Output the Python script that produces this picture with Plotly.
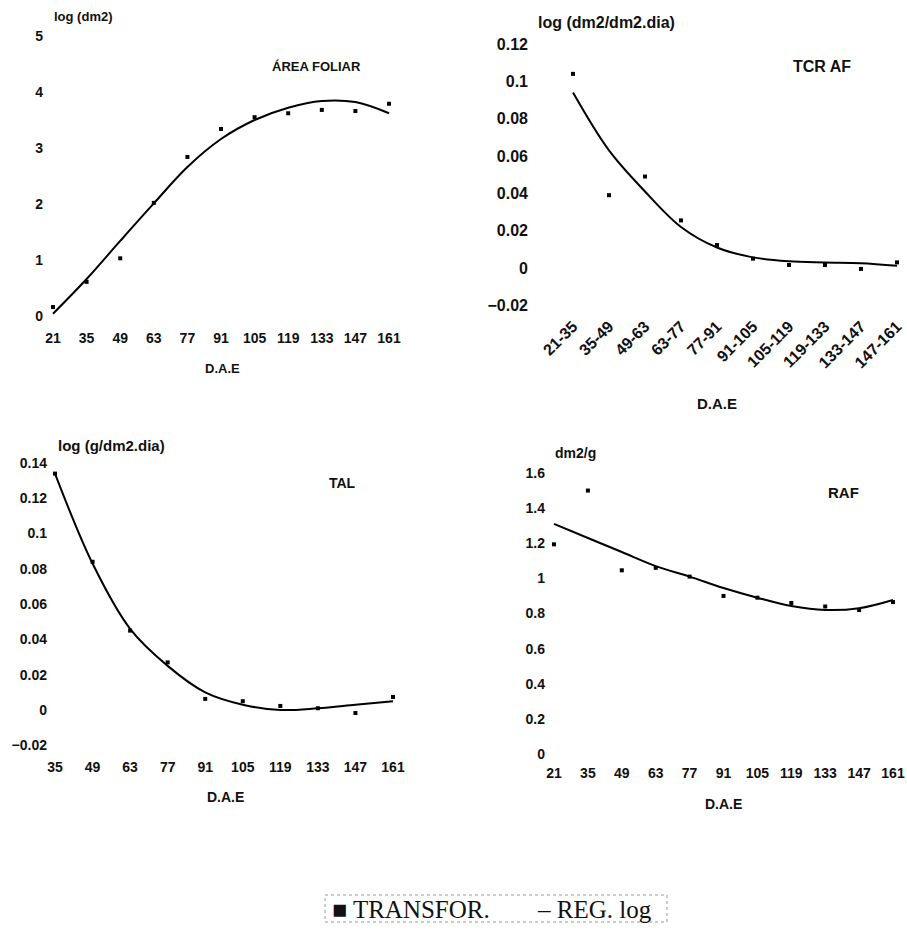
import plotly.graph_objects as go

W, H = 907, 930

# ---------------- data ----------------
dae = [21, 35, 49, 63, 77, 91, 105, 119, 133, 147, 161]
af_obs = [0.16, 0.61, 1.03, 2.02, 2.84, 3.34, 3.55, 3.62, 3.68, 3.66, 3.79]
af_reg = [0.04, 0.66, 1.34, 2.01, 2.66, 3.16, 3.50, 3.72, 3.84, 3.82, 3.62]

tcr_cat = ["21-35", "35-49", "49-63", "63-77", "77-91", "91-105",
           "105-119", "119-133", "133-147", "147-161"]
tcr_obs = [0.104, 0.039, 0.049, 0.0255, 0.0123, 0.005, 0.0016, 0.0016, -0.0005, 0.003]
tcr_reg = [0.094, 0.063, 0.041, 0.022, 0.011, 0.0057, 0.0036, 0.0030, 0.0026, 0.0012]

tal_dae = [35, 49, 63, 77, 91, 105, 119, 133, 147, 161]
tal_obs = [0.134, 0.084, 0.045, 0.027, 0.0063, 0.005, 0.0023, 0.001, -0.0017, 0.0074]
tal_reg = [0.134, 0.083, 0.046, 0.025, 0.010, 0.003, 0.0, 0.001, 0.003, 0.005]

raf_obs = [1.194, 1.50, 1.046, 1.06, 1.01, 0.90, 0.89, 0.86, 0.84, 0.82, 0.865]
raf_reg = [1.31, 1.23, 1.15, 1.07, 1.01, 0.945, 0.89, 0.843, 0.82, 0.83, 0.877]

af_ticks = [0, 1, 2, 3, 4, 5]
tcr_ticks = [-0.02, 0, 0.02, 0.04, 0.06, 0.08, 0.1, 0.12]
tal_ticks = [-0.02, 0, 0.02, 0.04, 0.06, 0.08, 0.1, 0.12, 0.14]
raf_ticks = [0, 0.2, 0.4, 0.6, 0.8, 1, 1.2, 1.4, 1.6]

# ---------------- styling helpers ----------------
FONT = "Liberation Sans, Arial, sans-serif"
SERIF = "Liberation Serif, Times New Roman, serif"
INK = "#111"


def tf(size):
    return dict(family=FONT, size=size, color=INK, weight="bold")


def xrng(d0, d1, v0, p0, v1, p1):
    s = (p1 - p0) / (v1 - v0)
    return [v0 - (p0 - d0) / s, v0 + (d1 - p0) / s]


def yrng(db, dt, v0, p0, v1, p1):
    s = (p0 - p1) / (v1 - v0)
    return [v0 - (db - p0) / s, v0 + (p0 - dt) / s]


def xdom(a, b):
    return [a / W, b / W]


def ydom(bottom, top):
    return [1 - bottom / H, 1 - top / H]


fig = go.Figure()

mk = dict(symbol="square", size=4, color="black")
ln = dict(color="black", width=2, shape="spline")

fig.add_trace(go.Scatter(x=dae, y=af_obs, mode="markers", marker=mk, xaxis="x", yaxis="y", name="TRANSFOR."))
fig.add_trace(go.Scatter(x=dae, y=af_reg, mode="lines", line=ln, xaxis="x", yaxis="y", name="REG. log"))

fig.add_trace(go.Scatter(x=tcr_cat, y=tcr_obs, mode="markers", marker=mk, xaxis="x2", yaxis="y2", name="TRANSFOR."))
fig.add_trace(go.Scatter(x=tcr_cat, y=tcr_reg, mode="lines", line=ln, xaxis="x2", yaxis="y2", name="REG. log"))

fig.add_trace(go.Scatter(x=tal_dae, y=tal_obs, mode="markers", marker=mk, xaxis="x3", yaxis="y3", name="TRANSFOR."))
fig.add_trace(go.Scatter(x=tal_dae, y=tal_reg, mode="lines", line=ln, xaxis="x3", yaxis="y3", name="REG. log"))

fig.add_trace(go.Scatter(x=dae, y=raf_obs, mode="markers", marker=mk, xaxis="x4", yaxis="y4", name="TRANSFOR."))
fig.add_trace(go.Scatter(x=dae, y=raf_reg, mode="lines", line=ln, xaxis="x4", yaxis="y4", name="REG. log"))

common = dict(showgrid=False, zeroline=False, showline=False, ticks="", fixedrange=True)

# Panel 1: AREA FOLIAR
d = (44, 405, 328, 28)
fig.update_layout(
    xaxis=dict(domain=xdom(d[0], d[1]), range=xrng(d[0], d[1], 21, 53, 161, 389),
               tickvals=dae, anchor="y", tickfont=tf(14), **common),
    yaxis=dict(domain=ydom(d[2], d[3]), range=yrng(d[2], d[3], 0, 316, 5, 36),
               tickvals=af_ticks, anchor="x", tickfont=tf(14), **common),
)
# Panel 2: TCR AF
d = (529, 906, 313, 36)
fig.update_layout(
    xaxis2=dict(domain=xdom(d[0], d[1]), range=xrng(d[0], d[1], 0, 573, 9, 897),
                type="category", tickangle=-45, anchor="y2", tickfont=tf(16), **common),
    yaxis2=dict(domain=ydom(d[2], d[3]), range=yrng(d[2], d[3], 0, 268, 0.12, 44),
                tickvals=tcr_ticks, anchor="x2", tickfont=tf(16), **common),
)
# Panel 3: TAL
d = (48, 405, 757, 455)
fig.update_layout(
    xaxis3=dict(domain=xdom(d[0], d[1]), range=xrng(d[0], d[1], 35, 55, 161, 393),
                tickvals=tal_dae, anchor="y3", tickfont=tf(14), **common),
    yaxis3=dict(domain=ydom(d[2], d[3]), range=yrng(d[2], d[3], 0, 710, 0.14, 463),
                tickvals=tal_ticks, anchor="x3", tickfont=tf(14), **common),
)
# Panel 4: RAF
d = (546, 906, 763, 465)
fig.update_layout(
    xaxis4=dict(domain=xdom(d[0], d[1]), range=xrng(d[0], d[1], 21, 554, 161, 893),
                tickvals=dae, anchor="y4", tickfont=tf(14), **common),
    yaxis4=dict(domain=ydom(d[2], d[3]), range=yrng(d[2], d[3], 0, 754, 1.6, 473),
                tickvals=raf_ticks, anchor="x4", tickfont=tf(14), **common),
)


def ann(text, x, y, size=13, family=FONT, weight="bold", xanchor="center"):
    return dict(text=text, x=x / W, y=1 - y / H, xref="paper", yref="paper",
                showarrow=False, xanchor=xanchor, yanchor="middle",
                font=dict(family=family, size=size, color=INK, weight=weight))


annotations = [
    ann("log (dm2)", 83, 16, 13),
    ann("ÁREA FOLIAR", 316, 67, 13),
    ann("D.A.E", 222, 368, 13),
    ann("log (dm2/dm2.dia)", 606, 22, 16),
    ann("TCR AF", 822, 67, 16),
    ann("D.A.E", 717, 403, 15),
    ann("log (g/dm2.dia)", 111, 445, 15),
    ann("TAL", 342, 483, 14),
    ann("D.A.E", 225, 797, 14),
    ann("dm2/g", 575, 453, 14),
    ann("RAF", 843, 492, 15),
    ann("D.A.E", 723, 804, 14),
    ann("■ TRANSFOR.", 330, 909, 25, SERIF, "normal", "left"),
    ann("– REG. log", 535, 909, 25, SERIF, "normal", "left"),
]

fig.update_layout(
    width=W, height=H,
    margin=dict(l=0, r=0, t=0, b=0),
    paper_bgcolor="white", plot_bgcolor="white",
    showlegend=False,
    annotations=annotations,
    shapes=[dict(type="rect", xref="paper", yref="paper",
                 x0=325 / W, x1=667 / W, y0=1 - 922 / H, y1=1 - 895 / H,
                 line=dict(color="#999", width=1, dash="dot"))],
)

fig.write_html(
    "out.html",
    config={"displayModeBar": False},
    post_script="document.body.style.margin='0';document.body.style.overflow='hidden';",
)
